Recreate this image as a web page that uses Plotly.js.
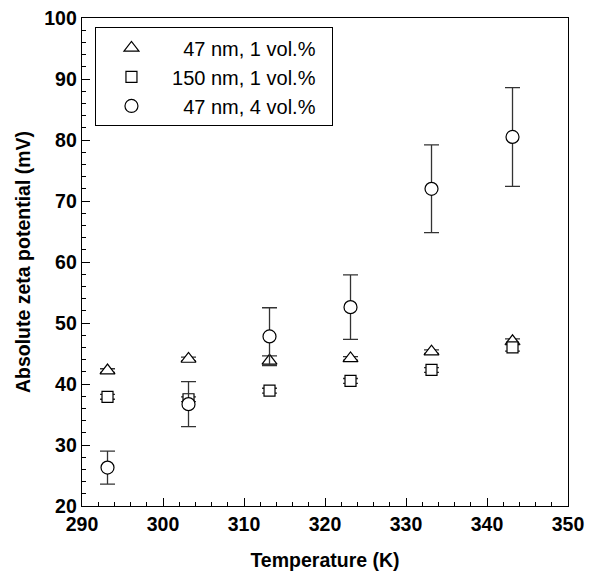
<!DOCTYPE html>
<html>
<head>
<meta charset="utf-8">
<script src="https://cdn.plot.ly/plotly-3.0.1.min.js"></script>
<style>html,body{margin:0;padding:0;background:#fff;}#chart{width:600px;height:571px;}</style>
</head>
<body>
<div id="chart"></div>
<script>
const temperature = [293.15, 303.15, 313.15, 323.15, 333.15, 343.15];
const zeta47nm1 = [42.2, 44.1, 43.8, 44.2, 45.3, 47.0];
const err47nm1 = [0.3, 0.3, 0.8, 0.3, 0.3, 0.4];
const zeta150nm1 = [37.9, 37.5, 38.9, 40.5, 42.3, 46.0];
const err150nm1 = [0.4, 0.4, 0.4, 0.4, 0.4, 0.6];
const zeta47nm4 = [26.3, 36.7, 47.8, 52.6, 72.0, 80.5];
const err47nm4 = [2.7, 3.7, 4.7, 5.3, 7.2, 8.1];
const seriesNames = ['47 nm, 1 vol.%', '150 nm, 1 vol.%', '47 nm, 4 vol.%'];
const xTicks = [290, 300, 310, 320, 330, 340, 350];
const yTicks = [20, 30, 40, 50, 60, 70, 80, 90, 100];

const NB = '\u00A0';
function pad(name, n, tail) { return NB.repeat(n) + name + NB.repeat(tail); }

function mk(y, err, symbol, size, name, padN, tail) {
  return {
    x: temperature, y: y, type: 'scatter', mode: 'markers',
    name: pad(name, padN, tail),
    marker: {symbol: symbol, size: size, color: '#ffffff', line: {color: '#000000', width: 1.2}},
    error_y: {type: 'data', array: err, visible: true, color: '#333333', thickness: 1.3, width: 7.5}
  };
}

const data = [
  mk(zeta47nm1, err47nm1, 'triangle-up', 13, seriesNames[0], 3, 0),
  mk(zeta150nm1, err150nm1, 'square', 11, seriesNames[1], 1, 2),
  mk(zeta47nm4, err47nm4, 'circle', 13, seriesNames[2], 3, 0)
];

const fontFam = 'Arial, "Liberation Sans", sans-serif';
const layout = {
  width: 600, height: 571,
  margin: {l: 81.5, r: 32, t: 17.5, b: 65},
  paper_bgcolor: '#ffffff', plot_bgcolor: '#ffffff',
  font: {family: fontFam, color: '#000000'},
  showlegend: true,
  legend: {
    x: 0.0277, y: 0.9806, xanchor: 'left', yanchor: 'top',
    itemwidth: 60,
    bordercolor: '#000000', borderwidth: 1, bgcolor: '#ffffff',
    font: {family: fontFam, size: 20, color: '#000000'}
  },
  xaxis: {
    range: [290, 350], tickvals: xTicks, ticktext: xTicks.map(String),
    ticks: 'inside', ticklen: 8, tickwidth: 1, tickcolor: '#000',
    minor: {dtick: 2, ticks: 'inside', ticklen: 4, tickwidth: 1, tickcolor: '#000', showgrid: false},
    showline: true, linecolor: '#000', linewidth: 1.3, mirror: true,
    showgrid: false, zeroline: false,
    tickfont: {family: fontFam, size: 19.5, weight: 'bold'},
    title: {text: '<b>Temperature (K)</b>', font: {family: fontFam, size: 19.5}, standoff: 21}
  },
  yaxis: {
    range: [20, 100], tickvals: yTicks, ticktext: yTicks.map(String),
    ticks: 'inside', ticklen: 8, tickwidth: 1, tickcolor: '#000',
    minor: {dtick: 2, ticks: 'inside', ticklen: 4, tickwidth: 1, tickcolor: '#000', showgrid: false},
    showline: true, linecolor: '#000', linewidth: 1.3, mirror: true,
    showgrid: false, zeroline: false,
    tickfont: {family: fontFam, size: 19.5, weight: 'bold'},
    title: {text: '<b>Absolute zeta potential (mV)</b>', font: {family: fontFam, size: 19.5}, standoff: 8}
  }
};

Plotly.newPlot('chart', data, layout, {displayModeBar: false, staticPlot: true});
</script>
</body>
</html>
